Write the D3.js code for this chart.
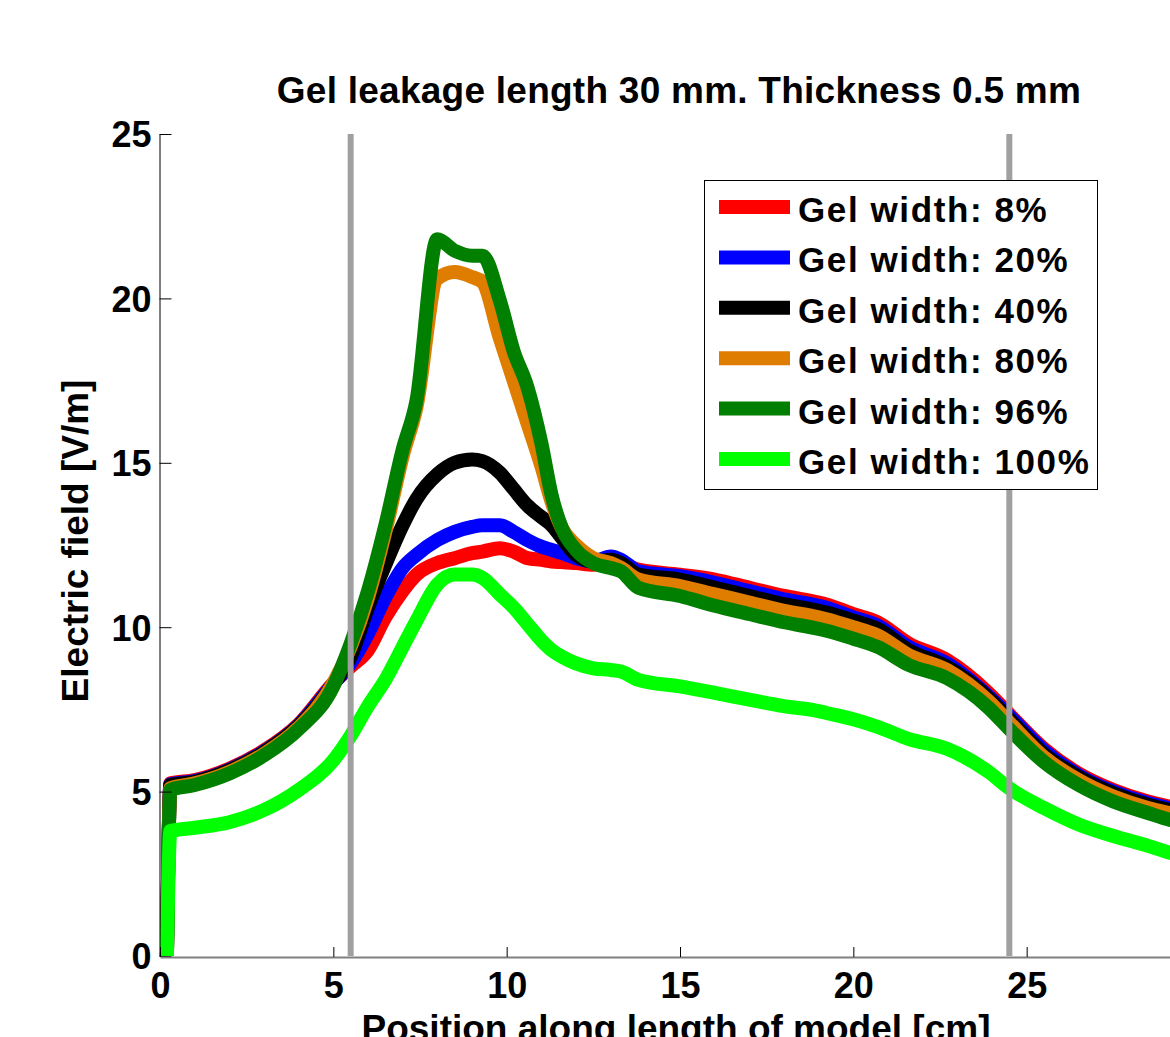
<!DOCTYPE html>
<html>
<head>
<meta charset="utf-8">
<script src="https://cdn.jsdelivr.net/npm/d3@7"></script>
<style>
  body { margin: 0; background: #fff; }
  svg { display: block; background: #fff; }
  text { font-family: "Liberation Sans", Arial, sans-serif; font-weight: bold; fill: #000; }
</style>
</head>
<body>
<svg id="chart" width="1170" height="1037"></svg>
<script>
// Position along the model [cm], shared by every series
const positions = [0.2, 0.3, 1, 2, 3, 4, 5,
  5.5, 6, 6.5, 7, 7.4,
  8, 8.5, 9, 9.3, 9.8,
  10.2, 10.6, 11, 11.3, 11.6,
  12, 12.5, 13, 13.3, 13.8,
  15, 16, 17, 18, 19,
  19.2, 20, 20.7, 21.6, 22.7,
  23.9, 24.5, 25.5, 26.5, 27.5,
  28.5, 29.1, 30];

// Electric field [V/m] for each gel width
const gel8 = [0, 5.25, 5.35, 5.7, 6.25, 7.05, 8.3,
  8.8, 9.3, 10.3, 11.1, 11.6,
  11.95, 12.1, 12.25, 12.3, 12.4,
  12.3, 12.1, 12.05, 12.0, 11.98,
  11.95, 11.9, 12.0, 11.95, 11.75,
  11.6, 11.45, 11.2, 10.95, 10.75,
  10.7, 10.4, 10.15, 9.5, 9.0,
  8.0, 7.35, 6.3, 5.55, 5.05,
  4.7, 4.55, 4.35];

const gel20 = [0, 5.22, 5.32, 5.67, 6.22, 7.02, 8.28,
  8.9, 9.8, 10.9, 11.8, 12.2,
  12.65, 12.9, 13.05, 13.1, 13.1,
  12.9, 12.65, 12.45, 12.35, 12.25,
  12.1, 12.0, 12.15, 12.05, 11.7,
  11.55, 11.35, 11.1, 10.85, 10.65,
  10.6, 10.3, 10.05, 9.4, 8.9,
  7.9, 7.3, 6.25, 5.5, 5.0,
  4.65, 4.5, 4.3];

const gel40 = [0, 5.2, 5.3, 5.65, 6.2, 7.0, 8.27,
  9.1, 10.6, 11.9, 13.1, 13.9,
  14.65, 15.0, 15.1, 15.05, 14.7,
  14.2, 13.7, 13.35, 13.1, 12.7,
  12.2, 12.0, 12.05, 11.95, 11.6,
  11.45, 11.2, 10.95, 10.7, 10.5,
  10.45, 10.2, 9.95, 9.3, 8.8,
  7.85, 7.2, 6.15, 5.45, 4.95,
  4.6, 4.45, 4.25];

const gel80 = [0, 5.1, 5.25, 5.6, 6.15, 6.95, 8.3,
  9.4, 10.9, 12.9, 15.2, 16.7,
  20.6, 20.8, 20.65, 20.5, 18.8,
  17.5, 16.2, 14.9, 13.8, 13.0,
  12.5, 12.1, 11.95, 11.8, 11.45,
  11.25, 11.0, 10.75, 10.5, 10.3,
  10.25, 10.0, 9.75, 9.15, 8.7,
  7.75, 7.1, 6.05, 5.35, 4.85,
  4.5, 4.35, 4.15];

const gel96 = [0, 5.05, 5.2, 5.55, 6.1, 6.9, 8.2,
  9.5, 11.1, 13.1, 15.4, 16.9,
  21.8, 21.45, 21.3, 21.3, 19.95,
  18.4, 17.3, 15.6, 14.0, 13.0,
  12.35, 11.95, 11.8, 11.7, 11.2,
  10.95, 10.65, 10.4, 10.15, 9.95,
  9.9, 9.65, 9.4, 8.85, 8.45,
  7.55, 6.9, 5.9, 5.2, 4.7,
  4.35, 4.15, 3.95];

const gel100 = [0, 3.8, 3.9, 4.07, 4.44, 5.05, 5.95,
  6.7, 7.6, 8.4, 9.4, 10.2,
  11.3, 11.6, 11.6, 11.5, 11.0,
  10.6, 10.1, 9.6, 9.3, 9.1,
  8.9, 8.75, 8.7, 8.65, 8.4,
  8.2, 8.0, 7.8, 7.6, 7.45,
  7.4, 7.2, 6.97, 6.6, 6.3,
  5.6, 5.1, 4.5, 4.0, 3.65,
  3.35, 3.15, 3.0];

const seriesLabels = ["Gel width: 8%", "Gel width: 20%", "Gel width: 40%",
  "Gel width: 80%", "Gel width: 96%", "Gel width: 100%"];
const seriesColors = ["#ff0000", "#0000ff", "#000000", "#de7d00", "#007f00", "#00ff00"];
const seriesValues = [gel8, gel20, gel40, gel80, gel96, gel100];

const xTicks = [0, 5, 10, 15, 20, 25];
const yTicks = [0, 5, 10, 15, 20, 25];
const electrodePositions = [5.5, 24.5];

const titleText = "Gel leakage length 30 mm. Thickness 0.5 mm";
const xLabel = "Position along length of model [cm]";
const yLabel = "Electric field [V/m]";

const svg = d3.select("#chart");

const x = d3.scaleLinear().domain([0, 30]).range([160, 1200]);
const y = d3.scaleLinear().domain([0, 25]).range([956, 134]);

// field curves, drawn in legend order so the last ones sit on top
const line = d3.line()
  .x(d => x(d[0]))
  .y(d => y(d[1]))
  .curve(d3.curveMonotoneX);

const curves = svg.append("g");
seriesValues.forEach((vals, i) => {
  const pts = positions.map((p, k) => [p, vals[k]]);
  curves.append("path")
    .datum(pts)
    .attr("d", line)
    .attr("fill", "none")
    .attr("stroke", seriesColors[i])
    .attr("stroke-width", 14)
    .attr("stroke-linejoin", "round")
    .attr("stroke-linecap", "butt");
});

// y axis (ticks point inward)
const yAxis = svg.append("g")
  .attr("transform", "translate(159.5,0)")
  .call(d3.axisLeft(y).tickValues(yTicks).tickSizeInner(-12).tickSizeOuter(0).tickPadding(8)
    .tickFormat(d3.format("d")));
yAxis.select(".domain").attr("stroke", "#000").attr("stroke-width", 1);
yAxis.selectAll(".tick line").attr("stroke", "#000").attr("stroke-width", 1);
yAxis.selectAll(".tick text")
  .attr("font-size", 36)
  .attr("font-family", "Liberation Sans, Arial, sans-serif")
  .attr("font-weight", "bold")
  .attr("fill", "#000")
  .attr("dy", "0.36em");

// x axis
const xAxis = svg.append("g")
  .attr("transform", "translate(0,957)")
  .call(d3.axisBottom(x).tickValues(xTicks).tickSizeInner(-10).tickSizeOuter(0).tickPadding(15)
    .tickFormat(d3.format("d")));
xAxis.select(".domain").attr("stroke", "#808080").attr("stroke-width", 2);
xAxis.selectAll(".tick line").attr("stroke", "#000").attr("stroke-width", 1);
xAxis.selectAll(".tick text")
  .attr("font-size", 36)
  .attr("font-family", "Liberation Sans, Arial, sans-serif")
  .attr("font-weight", "bold")
  .attr("fill", "#000");

// electrode markers
svg.append("g").selectAll("line")
  .data(electrodePositions)
  .join("line")
  .attr("x1", d => x(d)).attr("x2", d => x(d))
  .attr("y1", y(25)).attr("y2", y(0))
  .attr("stroke", "#a0a0a0")
  .attr("stroke-width", 6);

// title and axis labels
svg.append("text")
  .attr("x", 679).attr("y", 103)
  .attr("text-anchor", "middle")
  .attr("font-size", 37)
  .attr("letter-spacing", 0.25)
  .text(titleText);

svg.append("text")
  .attr("x", 676).attr("y", 1041)
  .attr("text-anchor", "middle")
  .attr("font-size", 37)
  .text(xLabel);

svg.append("text")
  .attr("transform", "translate(88,541) rotate(-90)")
  .attr("text-anchor", "middle")
  .attr("font-size", 37)
  .text(yLabel);

// legend
const legend = svg.append("g");
legend.append("rect")
  .attr("x", 704.5).attr("y", 180.5)
  .attr("width", 393).attr("height", 309)
  .attr("fill", "#fff")
  .attr("stroke", "#000")
  .attr("stroke-width", 1);

const rowY = i => 207 + i * 50.4;
seriesLabels.forEach((label, i) => {
  legend.append("line")
    .attr("x1", 719).attr("x2", 790)
    .attr("y1", rowY(i)).attr("y2", rowY(i))
    .attr("stroke", seriesColors[i])
    .attr("stroke-width", 14);
  legend.append("text")
    .attr("x", 798).attr("y", rowY(i) + 15)
    .attr("font-size", 35)
    .attr("letter-spacing", 1.6)
    .text(label);
});
</script>
</body>
</html>
